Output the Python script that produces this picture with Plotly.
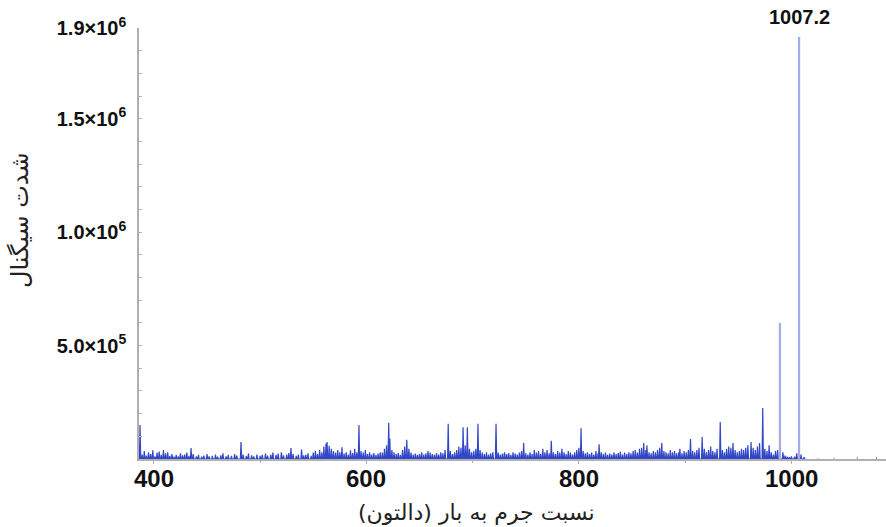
import plotly.graph_objects as go

# ---------------- data ----------------
# minor (noise / small) peaks: m/z and intensity
minor_mz = [
    387, 389, 391, 393, 395, 397, 399, 401, 403, 405, 407, 409, 411, 413, 415, 417, 419,
    421, 423, 425, 427, 429, 431, 433, 435, 437, 440, 442, 445, 447, 450, 452, 455, 458, 460,
    463, 465, 468, 470, 473, 476, 478,
    482, 484, 487, 489, 492, 494, 497, 500, 502, 505, 507, 510, 512, 515, 517, 520, 522, 525,
    527, 529, 531, 534, 536, 539, 541,
    543, 545, 548, 550, 552, 554, 556, 558, 560, 562, 563, 565, 567, 569, 571, 573, 575, 577, 579,
    581, 583, 585, 587, 589, 591, 593, 595, 597, 599, 601, 603, 605, 607, 609, 611, 613, 615,
    617, 619, 621, 622, 624, 626, 628, 630, 632, 634, 636, 638, 640,
    642, 644, 646, 648, 650, 652, 654, 656, 658, 660, 662, 664, 666, 668, 670, 672, 674, 677,
    679, 681, 683, 685, 687, 689, 691, 693, 695, 697, 699,
    701, 703, 705, 707, 709, 711, 713, 715, 717, 719, 722, 724, 726, 728, 730, 732, 734, 736,
    738, 740, 742, 744, 746, 748, 750, 752, 754, 756, 758,
    760, 762, 764, 766, 768, 770, 772, 774, 776, 778, 780, 782, 784, 786, 788, 790, 792, 794,
    796, 798, 800, 802, 804, 806, 808, 810, 812, 814, 816, 818, 819,
    821, 823, 825, 827, 829, 831, 833, 835, 837, 839, 841, 843, 845, 847, 849, 851, 853, 855,
    857, 859, 861, 863, 864, 866, 868, 870, 872, 874, 876, 878, 880,
    882, 884, 886, 888, 890, 892, 894, 895, 897, 899, 901, 903, 905, 907, 909, 911, 913, 916,
    918, 920, 922, 924, 926, 928, 930, 933, 935, 937, 939, 941, 943, 945, 947, 949, 951, 953,
    955, 957, 959, 962, 964, 966, 968, 970, 973, 975, 977, 979, 981, 983, 985, 987, 992, 994,
    996, 998, 1000, 1003, 1005, 1009, 1012,
]
minor_int = [
    150000, 20000, 35000, 15000, 30000, 22000, 38000, 12000, 28000, 33000, 18000, 40000, 25000, 30000, 14000, 22000, 10000,
    18000, 12000, 25000, 16000, 20000, 28000, 14000, 48000, 22000, 12000, 18000, 10000, 15000, 22000, 12000, 14000, 20000, 10000,
    16000, 25000, 12000, 18000, 14000, 22000, 15000,
    75000, 20000, 14000, 24000, 16000, 12000, 20000, 14000, 18000, 24000, 15000, 20000, 28000, 18000, 24000, 30000, 16000, 20000,
    26000, 48000, 22000, 14000, 20000, 42000, 16000,
    18000, 25000, 14000, 28000, 35000, 22000, 40000, 30000, 55000, 68000, 75000, 58000, 45000, 35000, 28000, 40000, 30000, 52000, 24000,
    30000, 20000, 38000, 26000, 45000, 30000, 150000, 35000, 28000, 40000, 22000, 30000, 20000, 26000, 18000, 24000, 30000, 28000,
    45000, 60000, 160000, 90000, 40000, 30000, 22000, 26000, 18000, 40000, 55000, 85000, 45000,
    28000, 20000, 24000, 18000, 22000, 30000, 20000, 25000, 35000, 28000, 22000, 18000, 26000, 20000, 30000, 25000, 40000, 155000,
    35000, 22000, 30000, 40000, 55000, 50000, 140000, 60000, 140000, 45000, 30000,
    35000, 45000, 155000, 40000, 28000, 22000, 30000, 20000, 25000, 30000, 155000, 28000, 20000, 24000, 30000, 22000, 26000, 18000,
    30000, 24000, 20000, 28000, 35000, 70000, 25000, 20000, 30000, 22000, 40000,
    28000, 35000, 22000, 45000, 30000, 40000, 25000, 80000, 30000, 22000, 35000, 28000, 45000, 30000, 22000, 35000, 28000, 20000,
    30000, 40000, 50000, 135000, 35000, 25000, 30000, 22000, 28000, 20000, 35000, 25000, 65000,
    30000, 22000, 28000, 18000, 24000, 20000, 30000, 22000, 26000, 32000, 20000, 28000, 22000, 30000, 25000, 35000, 40000, 28000,
    45000, 50000, 70000, 40000, 60000, 30000, 25000, 35000, 30000, 40000, 50000, 70000, 35000,
    30000, 25000, 40000, 30000, 35000, 25000, 30000, 45000, 25000, 35000, 30000, 40000, 88000, 35000, 30000, 40000, 50000, 97000,
    45000, 30000, 40000, 55000, 35000, 30000, 45000, 163000, 40000, 30000, 45000, 55000, 50000, 70000, 40000, 30000, 35000, 45000,
    40000, 50000, 60000, 75000, 50000, 40000, 55000, 70000, 225000, 45000, 35000, 60000, 30000, 20000, 35000, 40000, 30000, 15000,
    10000, 8000, 12000, 10000, 25000, 20000, 8000,
]

# major peaks
major_mz = [989.2, 1007.2]
major_int = [600000, 1860000]

# sparse peaks after the main cluster
tail_mz = [1025, 1040, 1062, 1080]
tail_int = [4000, 6000, 10000, 10000]

peak_label = "1007.2"

x_ticks = [400, 600, 800, 1000]
x_ticktext = ["400", "600", "800", "1000"]
y_ticks = [500000, 1000000, 1500000, 1900000]
y_ticktext = ["5.0×10<sup>5</sup>", "1.0×10<sup>6</sup>", "1.5×10<sup>6</sup>", "1.9×10<sup>6</sup>"]

x_title = "نسبت جرم به بار (دالتون)"
y_title = "شدت سیگنال"

# ---------------- build profile traces ----------------
HALF = 0.6  # half width of a centroid peak, in m/z units


def profile(mz, inten):
    xs, ys = [], []
    for m, v in sorted(zip(mz, inten)):
        xs += [m - HALF, m, m + HALF]
        ys += [0, v, 0]
    return xs, ys


def sticks(mz, inten):
    xs, ys = [], []
    for m, v in zip(mz, inten):
        xs += [m, m, None]
        ys += [0, v, None]
    return xs, ys


px, py = profile(minor_mz, minor_int)
mx, my = sticks(major_mz, major_int)
tx, ty = sticks(tail_mz, tail_int)

fig = go.Figure()
fig.add_trace(go.Scatter(x=px, y=py, mode="lines",
                         line=dict(color="#3246c8", width=1.2), hoverinfo="skip"))
fig.add_trace(go.Scatter(x=tx, y=ty, mode="lines",
                         line=dict(color="#8a90c0", width=1), hoverinfo="skip"))
fig.add_trace(go.Scatter(x=mx, y=my, mode="lines",
                         line=dict(color="#a3abec", width=2.2), hoverinfo="skip"))

W, H = 886, 527
L, R, T, B = 139, 0, 28, 68
pw, ph = W - L - R, H - T - B

annotations = [
    dict(x=major_mz[1], y=(H - B - 17) / ph, xref="x", yref="paper", text=peak_label,
         showarrow=False, yanchor="middle",
         font=dict(family="Liberation Sans", size=20, color="#111111", weight="bold")),
    dict(xref="paper", yref="paper", x=(476 - L) / pw, y=(H - B - 512) / ph,
         xanchor="center", yanchor="middle", text=x_title, showarrow=False,
         font=dict(family="DejaVu Sans", size=22, color="#222222")),
    dict(xref="paper", yref="paper", x=(20 - L) / pw, y=(H - B - 220) / ph,
         xanchor="center", yanchor="middle", text=y_title, showarrow=False,
         textangle=-90,
         font=dict(family="DejaVu Sans", size=24, color="#222222")),
]
# x tick labels, positioned on the x scale
for v, t in zip(x_ticks, x_ticktext):
    annotations.append(dict(x=v, xref="x", y=(H - B - 478) / ph, yref="paper",
                            text=t, showarrow=False, xanchor="center", yanchor="middle",
                            font=dict(family="Liberation Sans", size=24, color="#111111",
                                      weight="bold")))

fig.update_layout(
    width=W, height=H,
    margin=dict(l=L, r=R, t=T, b=B),
    paper_bgcolor="white", plot_bgcolor="white",
    showlegend=False,
    xaxis=dict(
        range=[386, 1089],
        showgrid=False, zeroline=False,
        showline=True, linecolor="#b0b0b0", linewidth=1.5,
        tickvals=x_ticks, ticks="outside", ticklen=3, tickcolor="#b0b0b0",
        showticklabels=False,
        minor=dict(dtick=100, tick0=0, ticks="outside", ticklen=2, tickcolor="#b0b0b0"),
    ),
    yaxis=dict(
        range=[0, 1.9e6],
        showgrid=False, zeroline=False,
        showline=True, linecolor="#b0b0b0", linewidth=1.5,
        tickvals=y_ticks, ticktext=y_ticktext,
        ticks="inside", ticklen=3, tickcolor="#b0b0b0",
        tickfont=dict(family="Liberation Sans", size=20, color="#111111", weight="bold"),
        ticklabelstandoff=7,
        minor=dict(dtick=100000, tick0=0, ticks="inside", ticklen=3, tickcolor="#b0b0b0"),
    ),
    annotations=annotations,
)

fig.write_html("out.html")
